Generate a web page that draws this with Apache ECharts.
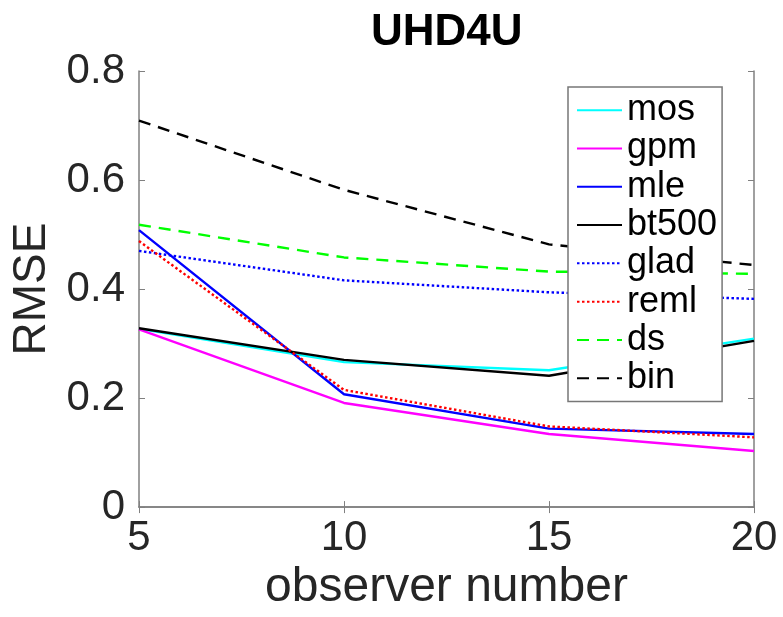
<!DOCTYPE html>
<html>
<head>
<meta charset="utf-8">
<script src="https://cdn.jsdelivr.net/npm/echarts@6/dist/echarts.min.js"></script>
<style>
  html, body { margin: 0; padding: 0; background: #fff; }
  #chart { width: 783px; height: 617px; }
</style>
</head>
<body>
<div id="chart"></div>
<script>
const observers = [5, 10, 15, 20]

const mos   = [0.327, 0.266, 0.251, 0.309]
const gpm   = [0.326, 0.191, 0.134, 0.103]
const mle   = [0.508, 0.207, 0.144, 0.134]
const bt500 = [0.328, 0.270, 0.241, 0.305]
const glad  = [0.470, 0.416, 0.394, 0.382]
const reml  = [0.488, 0.215, 0.148, 0.128]
const ds    = [0.518, 0.458, 0.432, 0.428]
const bin   = [0.709, 0.582, 0.482, 0.444]

const font = 'Liberation Sans, Arial, Helvetica, sans-serif'
const axisGray = '#808080'
const labelColor = '#262626'

function pts(vals) {
  return observers.map((x, i) => [x, vals[i]])
}

function line(name, vals, color, type) {
  return {
    name: name,
    type: 'line',
    data: pts(vals),
    symbol: 'none',
    showSymbol: false,
    lineStyle: { color: color, width: 2.4, type: type },
    itemStyle: { color: color },
    emphasis: { disabled: true },
    animation: false
  }
}

const series = [
  line('mos', mos, '#00ffff', 'solid'),
  line('gpm', gpm, '#ff00ff', 'solid'),
  line('mle', mle, '#0000ff', 'solid'),
  line('bt500', bt500, '#000000', 'solid'),
  line('glad', glad, '#0000ff', [2.5, 2.5]),
  line('reml', reml, '#ff0000', [2.5, 2.5]),
  line('ds', ds, '#00ff00', [12, 8]),
  line('bin', bin, '#000000', [12, 8])
]

const chart = echarts.init(document.getElementById('chart'))

const option = {
  backgroundColor: '#fff',
  animation: false,
  title: {
    text: 'UHD4U',
    left: 366,
    top: 6,
    textStyle: { fontFamily: font, fontSize: 44, fontWeight: 'bold', color: '#000' }
  },
  grid: { left: 139, right: 29, top: 71, bottom: 95 },
  legend: {
    left: 568,
    top: 87,
    orient: 'vertical',
    z: 10,
    padding: [4, 5, 4, 8],
    itemGap: 0,
    itemWidth: 45,
    itemHeight: 14,
    itemStyle: { opacity: 0 },
    backgroundColor: '#fff',
    borderColor: '#777',
    borderWidth: 1.5,
    textStyle: { fontFamily: font, fontSize: 36, color: '#000', lineHeight: 38.3 },
    data: ['mos', 'gpm', 'mle', 'bt500', 'glad', 'reml', 'ds', 'bin']
  },
  xAxis: [
    {
      type: 'value',
      min: 5,
      max: 20,
      interval: 5,
      name: 'observer number',
      nameLocation: 'middle',
      nameGap: 51,
      nameTextStyle: { fontFamily: font, fontSize: 48, color: labelColor },
      axisLine: { lineStyle: { color: axisGray, width: 1.5 } },
      axisTick: { inside: true, length: 6, lineStyle: { color: axisGray } },
      axisLabel: { fontFamily: font, fontSize: 42, color: labelColor, margin: 10 },
      splitLine: { show: false }
    },
    {
      type: 'value',
      position: 'top',
      min: 5,
      max: 20,
      interval: 5,
      axisLine: { lineStyle: { color: axisGray, width: 1.5 } },
      axisTick: { inside: true, length: 6, lineStyle: { color: axisGray } },
      axisLabel: { show: false },
      splitLine: { show: false }
    }
  ],
  yAxis: [
    {
      type: 'value',
      min: 0,
      max: 0.8,
      interval: 0.2,
      name: 'RMSE',
      nameLocation: 'middle',
      nameGap: 84,
      nameTextStyle: { fontFamily: font, fontSize: 46, color: labelColor },
      axisLine: { show: true, lineStyle: { color: axisGray, width: 1.5 } },
      axisTick: { show: true, inside: true, length: 6, lineStyle: { color: axisGray } },
      axisLabel: { fontFamily: font, fontSize: 42, color: labelColor, margin: 14 },
      splitLine: { show: false }
    },
    {
      type: 'value',
      position: 'right',
      min: 0,
      max: 0.8,
      interval: 0.2,
      axisLine: { show: true, lineStyle: { color: axisGray, width: 1.5 } },
      axisTick: { show: true, inside: true, length: 6, lineStyle: { color: axisGray } },
      axisLabel: { show: false },
      splitLine: { show: false }
    }
  ],
  series: series
}

chart.setOption(option)
</script>
</body>
</html>
